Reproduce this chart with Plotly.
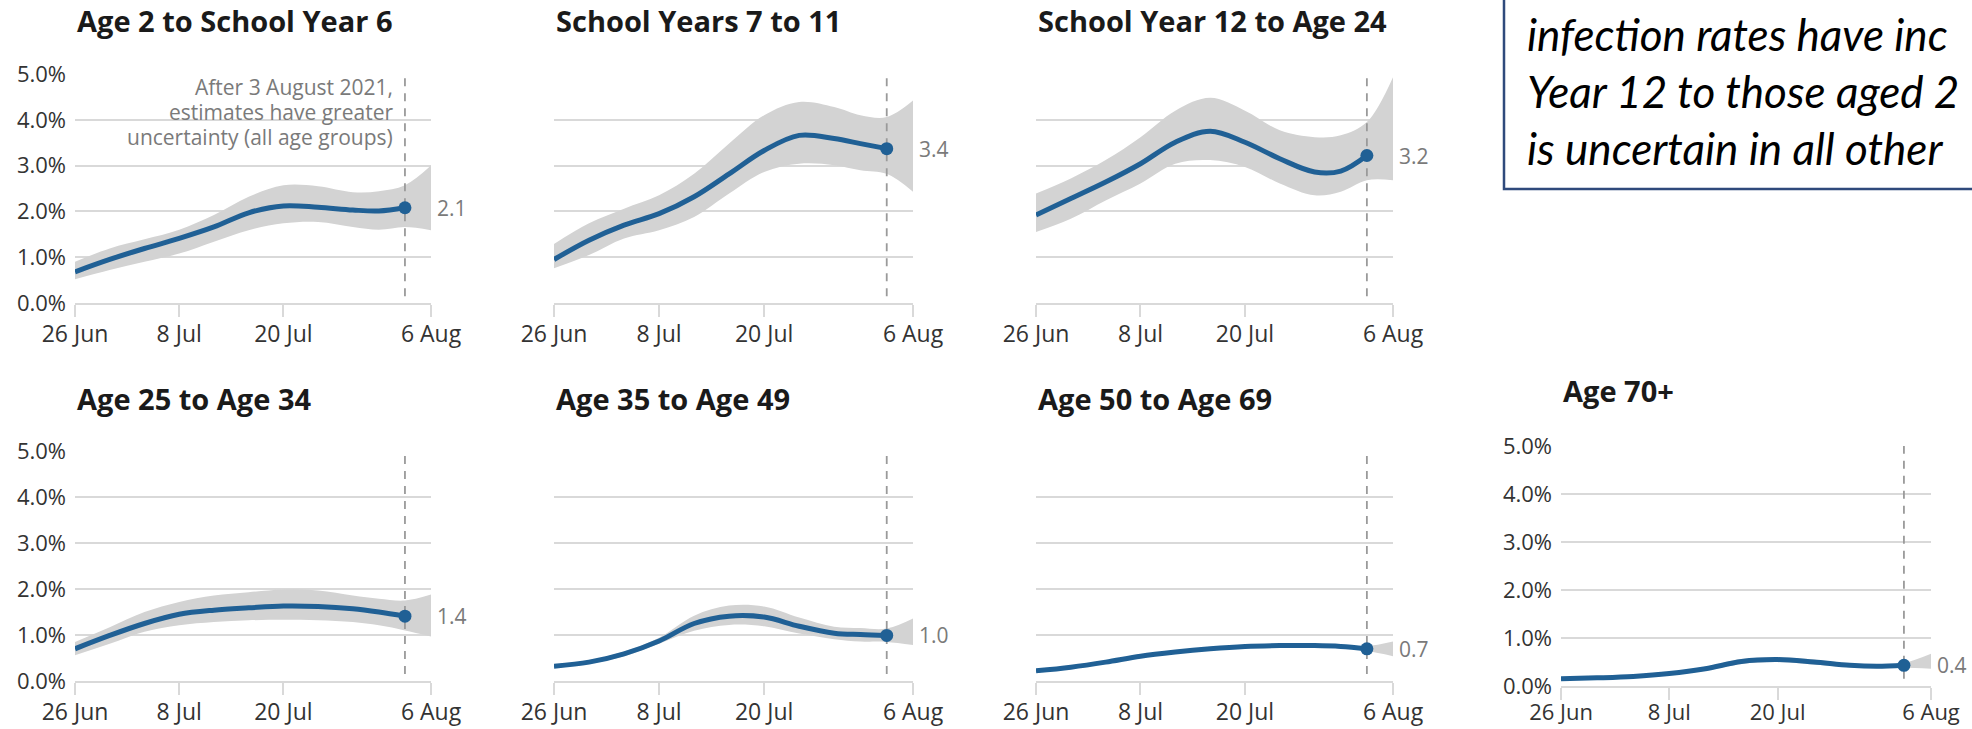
import plotly.graph_objects as go

W, H = 1972, 729

# ---------------- data ----------------
dates_line = ['2021-06-26', '2021-06-30', '2021-07-04', '2021-07-08', '2021-07-12', '2021-07-16',
              '2021-07-20', '2021-07-24', '2021-07-28', '2021-07-31', '2021-08-03']
dates_band = dates_line + ['2021-08-06']
last_date = '2021-08-03'

titles = ['Age 2 to School Year 6', 'School Years 7 to 11', 'School Year 12 to Age 24',
          'Age 25 to Age 34', 'Age 35 to Age 49', 'Age 50 to Age 69', 'Age 70+']
end_labels = ['2.1', '3.4', '3.2', '1.4', '1.0', '0.7', '0.4']

x_ticks = ['2021-06-26', '2021-07-08', '2021-07-20', '2021-08-06']
x_ticktext = ['26 Jun', '8 Jul', '20 Jul', '6 Aug']
y_ticks = [0, 1, 2, 3, 4, 5]
y_ticktext = ['0.0%', '1.0%', '2.0%', '3.0%', '4.0%', '5.0%']

p1_line = [0.68, 0.95, 1.19, 1.41, 1.66, 1.97, 2.12, 2.09, 2.03, 2.01, 2.08]
p1_upper = [0.90, 1.19, 1.39, 1.60, 1.92, 2.32, 2.57, 2.55, 2.42, 2.44, 2.57, 3.00]
p1_lower = [0.52, 0.72, 0.90, 1.08, 1.34, 1.59, 1.74, 1.77, 1.66, 1.60, 1.66, 1.59]

p2_line = [0.95, 1.37, 1.70, 1.95, 2.32, 2.82, 3.33, 3.66, 3.59, 3.48, 3.37]
p2_upper = [1.29, 1.74, 2.06, 2.35, 2.82, 3.48, 4.10, 4.39, 4.28, 4.10, 4.06, 4.42]
p2_lower = [0.76, 1.05, 1.41, 1.59, 1.88, 2.39, 2.86, 3.04, 3.01, 2.90, 2.82, 2.43]

p3_line = [1.92, 2.28, 2.64, 3.04, 3.51, 3.75, 3.51, 3.15, 2.86, 2.88, 3.22]
p3_upper = [2.39, 2.72, 3.12, 3.62, 4.20, 4.48, 4.20, 3.77, 3.62, 3.66, 3.95, 4.93]
p3_lower = [1.55, 1.84, 2.24, 2.61, 3.04, 3.12, 2.97, 2.61, 2.35, 2.43, 2.68, 2.68]

p4_line = [0.70, 0.99, 1.25, 1.45, 1.54, 1.59, 1.63, 1.62, 1.57, 1.50, 1.41]
p4_upper = [0.85, 1.17, 1.50, 1.72, 1.86, 1.93, 1.99, 1.97, 1.86, 1.79, 1.75, 1.88]
p4_lower = [0.56, 0.81, 1.07, 1.21, 1.28, 1.32, 1.33, 1.32, 1.28, 1.21, 1.10, 0.97]

p5_line = [0.32, 0.41, 0.59, 0.87, 1.25, 1.41, 1.39, 1.19, 1.04, 1.01, 0.99]
p5_upper = [0.35, 0.45, 0.64, 0.94, 1.42, 1.64, 1.62, 1.38, 1.18, 1.15, 1.14, 1.36]
p5_lower = [0.28, 0.38, 0.54, 0.81, 1.09, 1.22, 1.19, 1.03, 0.91, 0.86, 0.85, 0.78]

p6_line = [0.22, 0.30, 0.41, 0.54, 0.63, 0.70, 0.75, 0.77, 0.77, 0.75, 0.70]
p6_upper = [0.24, 0.33, 0.44, 0.57, 0.66, 0.73, 0.78, 0.80, 0.80, 0.79, 0.76, 0.86]
p6_lower = [0.20, 0.27, 0.38, 0.51, 0.60, 0.67, 0.72, 0.74, 0.74, 0.71, 0.65, 0.54]

p7_line = [0.15, 0.17, 0.20, 0.26, 0.36, 0.51, 0.55, 0.50, 0.43, 0.41, 0.43]
p7_upper = [0.17, 0.19, 0.22, 0.29, 0.40, 0.56, 0.60, 0.55, 0.47, 0.45, 0.48, 0.67]
p7_lower = [0.13, 0.15, 0.18, 0.23, 0.32, 0.46, 0.50, 0.45, 0.39, 0.37, 0.38, 0.36]

lines = [p1_line, p2_line, p3_line, p4_line, p5_line, p6_line, p7_line]
uppers = [p1_upper, p2_upper, p3_upper, p4_upper, p5_upper, p6_upper, p7_upper]
lowers = [p1_lower, p2_lower, p3_lower, p4_lower, p5_lower, p6_lower, p7_lower]

note_lines = ['After 3 August 2021,', 'estimates have greater', 'uncertainty (all age groups)']
box_lines = ['infection rates have inc', 'Year 12 to those aged 2', 'is uncertain in all other']

# ---------------- layout (pixel boxes) ----------------
# (left, right, top, bottom, show y labels, title centre y, x tick label standoff)
panels = [
    (75, 431, 74, 303, True, 20, -3),
    (554, 913, 74, 303, False, 20, -3),
    (1036, 1393, 74, 303, False, 20, -3),
    (75, 431, 451, 681, True, 398, -3),
    (554, 913, 451, 681, False, 398, -3),
    (1036, 1393, 451, 681, False, 398, -3),
    (1561, 1931, 446, 686, True, 390, -6),
]

BLUE = '#206095'
BAND = '#d3d3d3'
GRID = '#d9d9d9'
FONT = 'Open Sans'

fig = go.Figure()
annotations = []
layout_axes = {}

for i, (l, r, t, b, showy, ty, stand) in enumerate(panels):
    n = i + 1
    xa = 'x' if n == 1 else f'x{n}'
    ya = 'y' if n == 1 else f'y{n}'
    xkey = 'xaxis' if n == 1 else f'xaxis{n}'
    ykey = 'yaxis' if n == 1 else f'yaxis{n}'

    layout_axes[xkey] = dict(
        domain=[l / W, r / W], anchor=ya, type='date', automargin=False,
        range=['2021-06-26', '2021-08-06'],
        tickmode='array', tickvals=x_ticks, ticktext=x_ticktext,
        showgrid=False, zeroline=False,
        showline=True, linecolor=GRID, linewidth=2,
        ticks='outside', ticklen=12, tickwidth=2, tickcolor=GRID,
        tickfont=dict(family=FONT, size=23 if n < 7 else 22, color='#333333'),
        ticklabelstandoff=stand, fixedrange=True,
    )
    layout_axes[ykey] = dict(
        domain=[1 - b / H, 1 - t / H], anchor=xa, automargin=False,
        range=[0, 5], tickmode='array', tickvals=y_ticks, ticktext=y_ticktext,
        showticklabels=showy, showgrid=True, gridcolor=GRID, gridwidth=2,
        zeroline=False, showline=False, ticks='',
        tickfont=dict(family=FONT, size=22, color='#333333'),
        ticklabelstandoff=8, fixedrange=True,
    )

    # uncertainty band
    fig.add_trace(go.Scatter(x=dates_band, y=uppers[i], xaxis=xa, yaxis=ya, mode='lines',
                             line=dict(width=0, shape='spline', smoothing=1.0, color=BAND),
                             hoverinfo='skip', showlegend=False))
    fig.add_trace(go.Scatter(x=dates_band, y=lowers[i], xaxis=xa, yaxis=ya, mode='lines',
                             line=dict(width=0, shape='spline', smoothing=1.0, color=BAND),
                             fill='tonexty', fillcolor=BAND,
                             hoverinfo='skip', showlegend=False))
    # dashed marker of 3 August
    fig.add_trace(go.Scatter(x=[last_date, last_date], y=[0.15, 5.0], xaxis=xa, yaxis=ya,
                             mode='lines', line=dict(color='#9a9a9a', width=1.8, dash='8px,7px'),
                             hoverinfo='skip', showlegend=False))
    # estimate line
    fig.add_trace(go.Scatter(x=dates_line, y=lines[i], xaxis=xa, yaxis=ya, mode='lines',
                             line=dict(color=BLUE, width=5, shape='spline', smoothing=1.0),
                             showlegend=False))
    fig.add_trace(go.Scatter(x=[dates_line[-1]], y=[lines[i][-1]], xaxis=xa, yaxis=ya,
                             mode='markers', marker=dict(color=BLUE, size=13),
                             showlegend=False, cliponaxis=False))

    # end value label
    annotations.append(dict(x='2021-08-06', y=lines[i][-1], xref=xa, yref=ya,
                            text=end_labels[i], showarrow=False, xanchor='left', yanchor='middle',
                            xshift=4, font=dict(family=FONT, size=21, color='#7a7a7a')))
    # panel title
    annotations.append(dict(x=l / W, y=1 - ty / H, xref='paper', yref='paper',
                            text=f'<b>{titles[i]}</b>', showarrow=False,
                            xanchor='left', yanchor='middle',
                            font=dict(family=FONT, size=29, color='#1a1a1a')))

# note in first panel
for k, txt in enumerate(note_lines):
    annotations.append(dict(x=395 / W, y=1 - (87 + 25 * k) / H, xref='paper', yref='paper',
                            text=txt, showarrow=False, xanchor='right', yanchor='middle',
                            font=dict(family=FONT, size=21, color='#7a7a7a')))

# text box top right (cut by the right edge in the original)
for k, txt in enumerate(box_lines):
    annotations.append(dict(x=1525 / W, y=1 - (34 + 57 * k) / H, xref='paper', yref='paper',
                            text=f'<i>{txt}</i>', showarrow=False, xanchor='left', yanchor='middle',
                            font=dict(family='Lato', size=44, color='#000000')))

shapes = [dict(type='rect', xref='paper', yref='paper',
               x0=1504 / W, x1=1.05, y0=1 - 189 / H, y1=1.05,
               line=dict(color='#2f4a7c', width=2.5), fillcolor='rgba(0,0,0,0)')]

fig.update_layout(
    width=W, height=H, margin=dict(l=0, r=0, t=0, b=0, autoexpand=False),
    paper_bgcolor='white', plot_bgcolor='white',
    annotations=annotations, shapes=shapes, showlegend=False,
    **layout_axes,
)

fig.write_html('out.html', config={'displayModeBar': False},
               post_script="document.body.style.margin='0px';document.body.style.overflow='hidden';")
